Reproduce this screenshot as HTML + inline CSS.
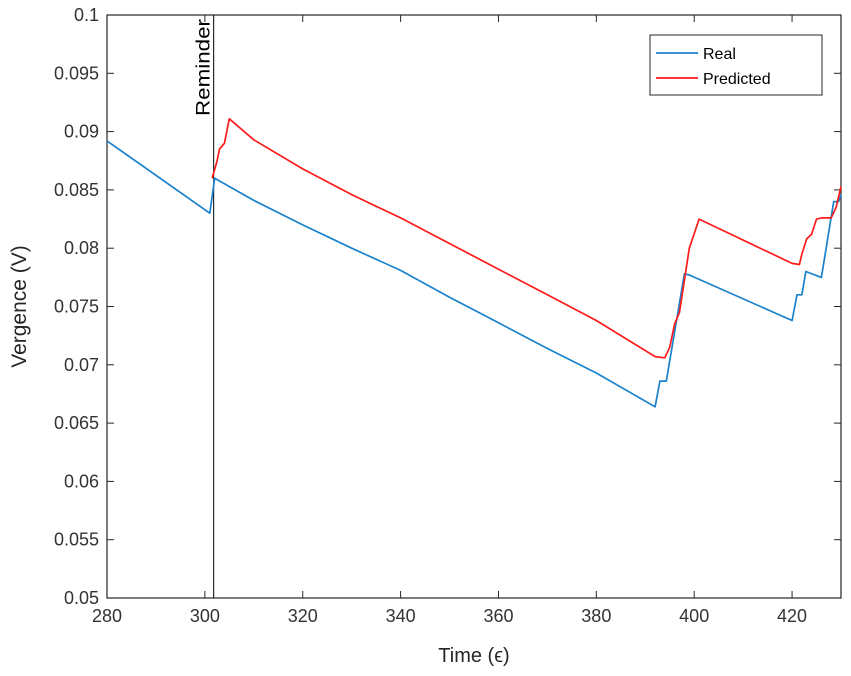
<!DOCTYPE html>
<html><head><meta charset="utf-8"><style>
html,body{margin:0;padding:0;background:#fff;}
svg{display:block;font-family:"Liberation Sans",sans-serif;}
</style></head><body>
<svg id="chart" width="851" height="676" viewBox="0 0 851 676" xmlns="http://www.w3.org/2000/svg">
<g id="axes"></g>
<g id="series"></g>
</svg>
<script>
const xTicks = [280,300,320,340,360,380,400,420];
const yTicks = [0.05,0.055,0.06,0.065,0.07,0.075,0.08,0.085,0.09,0.095,0.1];
const yTickLabels = ["0.05","0.055","0.06","0.065","0.07","0.075","0.08","0.085","0.09","0.095","0.1"];
const realX = [280,301,302,310,320,330,340,350,360,370,380,392,393,394.3,398,399,420,421,422,422.8,426,428.5,429.5,430];
const realY = [0.0892,0.0830,0.0860,0.0841,0.0820,0.0800,0.0781,0.0758,0.0736,0.0714,0.0693,0.0664,0.0686,0.0686,0.0778,0.0777,0.0738,0.0760,0.0760,0.0780,0.0775,0.0840,0.0840,0.0846];
const predX = [301.5,302.5,303,304,305,310,320,330,340,350,360,370,380,392,394,395,396,397,399,401,420,421.5,422,423,424,425,426,428,429,430];
const predY = [0.0860,0.0875,0.0885,0.0890,0.0911,0.0893,0.0868,0.0846,0.0826,0.0804,0.0782,0.0760,0.0738,0.0707,0.0706,0.0715,0.0735,0.0745,0.0800,0.0825,0.0787,0.0786,0.0795,0.0808,0.0812,0.0825,0.0826,0.0826,0.0835,0.0853];
const reminderX = 301.8;

const L=107,R=841,T=15,B=598;
const xMin=280,xMax=430,yMin=0.05,yMax=0.1;
const sx=v=>L+(v-xMin)/(xMax-xMin)*(R-L);
const sy=v=>B-(v-yMin)/(yMax-yMin)*(B-T);
const NS="http://www.w3.org/2000/svg";
function mk(tag,parent,attrs){const e=document.createElementNS(NS,tag);for(const k in attrs)e.setAttribute(k,attrs[k]);parent.appendChild(e);return e;}
const ax=document.getElementById('axes'), se=document.getElementById('series');

let box=mk('rect',ax,{x:L,y:T,width:R-L,height:B-T,fill:'#fff',stroke:'#262626','stroke-width':1.2});



xTicks.forEach(v=>{
  const x=sx(v);
  mk('line',ax,{x1:x,x2:x,y1:B,y2:B-7,stroke:'#262626'});
  mk('line',ax,{x1:x,x2:x,y1:T,y2:T+7,stroke:'#262626'});
  const t=mk('text',ax,{x:x,y:B+24,'text-anchor':'middle','font-size':18,fill:'#333'});
  t.textContent=v;
  
  
});
yTicks.forEach((v,i)=>{
  const y=sy(v);
  mk('line',ax,{x1:L,x2:L+7,y1:y,y2:y,stroke:'#262626'});
  mk('line',ax,{x1:R,x2:R-7,y1:y,y2:y,stroke:'#262626'});
  const t=mk('text',ax,{x:L-8,y:y+6,'text-anchor':'end','font-size':18,fill:'#333'});
  t.textContent=yTickLabels[i];
  
  
});
let xt=mk('text',ax,{x:(L+R)/2,y:662,'text-anchor':'middle','font-size':20,fill:'#262626'});
xt.textContent='Time (ϵ)';


let yt=mk('text',ax,{x:0,y:0,'text-anchor':'middle','font-size':21,fill:'#262626',transform:`translate(26,${(T+B)/2}) rotate(-90)`});
yt.textContent='Vergence (V)';



const rx=sx(reminderX);
let rl=mk('line',se,{x1:rx,x2:rx,y1:T,y2:B,stroke:'#000','stroke-width':1});


let rt=mk('text',se,{x:0,y:0,'font-size':19,fill:'#000','text-anchor':'end',textLength:97,lengthAdjust:'spacingAndGlyphs',transform:`translate(${rx-4},${T+4}) rotate(-90)`});
rt.textContent='Reminder';



function line(xs,ys,col,name){
  const d=xs.map((x,i)=>(i?'L':'M')+sx(x).toFixed(1)+','+sy(ys[i]).toFixed(1)).join(' ');
  const p=mk('path',se,{d:d,fill:'none',stroke:col,'stroke-width':1.7,'stroke-linejoin':'round'});
  
  
}
line(realX,realY,'#1a82cc','real-line');
line(predX,predY,'#FF1a1a','predicted-line');

const lg=mk('g',se,{});


mk('rect',lg,{x:650,y:35,width:172,height:60,fill:'#fff',stroke:'#262626','stroke-width':1});
[['Real','#1a82cc',53],['Predicted','#FF1a1a',78]].forEach(([n,c,y])=>{
  mk('line',lg,{x1:656,x2:698,y1:y,y2:y,stroke:c,'stroke-width':1.7});
  const t=mk('text',lg,{x:703,y:y+6,'font-size':16,fill:'#000'});
  t.textContent=n;
  
  
});
</script>
</body></html>
